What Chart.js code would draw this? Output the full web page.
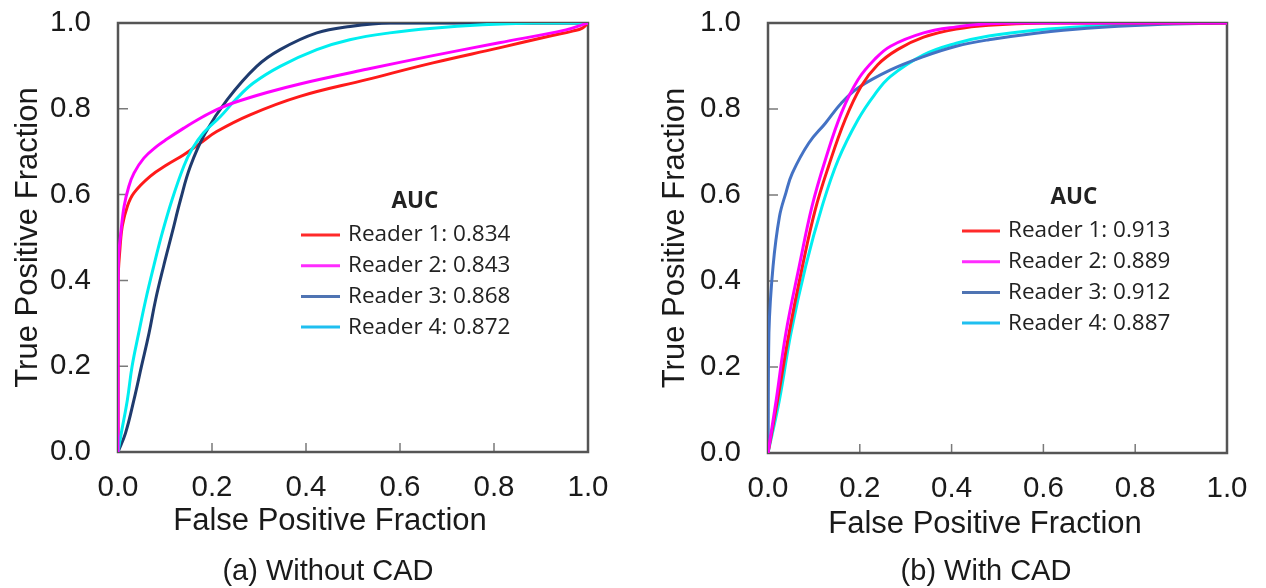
<!DOCTYPE html>
<html><head><meta charset="utf-8">
<script src="https://cdn.jsdelivr.net/npm/chart.js@4.4.1/dist/chart.umd.min.js"></script>
<style>
html,body{margin:0;padding:0;background:#fff;width:1266px;height:588px;overflow:hidden}
.panel{position:absolute;top:0;height:588px;width:633px}
#pa{left:0}#pb{left:633px}
</style></head><body>
<div class="panel" id="pa"><canvas id="ca"></canvas></div>
<div class="panel" id="pb"><canvas id="cb"></canvas></div>
<script>
// ---------- data ----------
const tickValues = [0, 0.2, 0.4, 0.6, 0.8, 1.0];
const readerNames = ['Reader 1', 'Reader 2', 'Reader 3', 'Reader 4'];
const aucWithout = ['0.834', '0.843', '0.868', '0.872'];
const aucWith = ['0.913', '0.889', '0.912', '0.887'];
const xTitleText = 'False Positive Fraction';
const yTitleText = 'True Positive Fraction';
const captionA = '(a) Without CAD';
const captionB = '(b) With CAD';

// (a) Without CAD
const r1WithoutX = [0, 0.0003, 0.004, 0.009, 0.02, 0.034, 0.069, 0.105, 0.14, 0.175, 0.21, 0.281, 0.387, 0.529, 0.67, 0.811, 0.917, 0.967, 0.988, 1];
const r1WithoutY = [0, 0.40, 0.472, 0.526, 0.573, 0.604, 0.643, 0.67, 0.693, 0.72, 0.747, 0.786, 0.829, 0.868, 0.907, 0.942, 0.969, 0.981, 0.988, 1];
const r2WithoutX = [0, 0.0003, 0.001, 0.006, 0.013, 0.023, 0.034, 0.055, 0.083, 0.105, 0.14, 0.175, 0.21, 0.246, 0.317, 0.387, 0.529, 0.67, 0.811, 0.953, 1];
const r2WithoutY = [0, 0.30, 0.448, 0.51, 0.573, 0.619, 0.65, 0.685, 0.713, 0.73, 0.755, 0.778, 0.798, 0.814, 0.838, 0.858, 0.892, 0.924, 0.954, 0.984, 1];
const r3WithoutX = [0, 0.016, 0.034, 0.05, 0.066, 0.08, 0.097, 0.115, 0.133, 0.154, 0.186, 0.232, 0.295, 0.345, 0.423, 0.494, 0.58, 1];
const r3WithoutY = [0, 0.044, 0.122, 0.2, 0.277, 0.355, 0.433, 0.51, 0.588, 0.666, 0.744, 0.821, 0.899, 0.938, 0.977, 0.992, 1, 1];
const r4WithoutX = [0, 0.007, 0.02, 0.03, 0.044, 0.059, 0.076, 0.094, 0.115, 0.14, 0.157, 0.182, 0.218, 0.25, 0.288, 0.345, 0.423, 0.493, 0.578, 0.67, 0.776, 0.882, 1];
const r4WithoutY = [0, 0.044, 0.122, 0.2, 0.277, 0.355, 0.433, 0.51, 0.588, 0.666, 0.705, 0.744, 0.782, 0.821, 0.86, 0.899, 0.938, 0.961, 0.977, 0.988, 0.996, 1, 1];

// (b) With CAD
const r1WithX = [0, 0.021, 0.046, 0.075, 0.103, 0.132, 0.168, 0.203, 0.239, 0.282, 0.339, 0.41, 0.481, 0.6, 1];
const r1WithY = [0, 0.124, 0.279, 0.434, 0.566, 0.667, 0.775, 0.853, 0.903, 0.938, 0.967, 0.986, 0.995, 1, 1];
const r2WithX = [0, 0.018, 0.039, 0.068, 0.096, 0.125, 0.16, 0.196, 0.232, 0.267, 0.339, 0.41, 0.48, 0.56, 1];
const r2WithY = [0, 0.124, 0.279, 0.434, 0.574, 0.682, 0.791, 0.868, 0.915, 0.946, 0.977, 0.991, 0.998, 1, 1];
const r3WithX = [0, 0.002, 0.011, 0.025, 0.039, 0.053, 0.089, 0.125, 0.16, 0.196, 0.267, 0.339, 0.41, 0.481, 0.588, 0.695, 0.838, 1];
const r3WithY = [0, 0.28, 0.434, 0.55, 0.605, 0.651, 0.721, 0.767, 0.814, 0.849, 0.891, 0.922, 0.946, 0.961, 0.977, 0.988, 0.996, 1];
const r4WithX = [0, 0.025, 0.05, 0.082, 0.118, 0.153, 0.196, 0.232, 0.267, 0.339, 0.41, 0.481, 0.588, 0.695, 0.838, 1];
const r4WithY = [0, 0.124, 0.279, 0.434, 0.574, 0.682, 0.775, 0.833, 0.876, 0.926, 0.953, 0.97, 0.984, 0.992, 0.998, 1];

// ---------- styling ----------
const fontSans = "'Liberation Sans', Arial, sans-serif";
const fontLegend = "'Open Sans', 'DejaVu Sans', sans-serif";
const textColor = '#1a1a1a';

const pts = (xs, ys) => xs.map((x, i) => ({x, y: ys[i]}));

const decorPlugin = {
  id: 'decor',
  beforeDatasetsDraw(chart) {
    const {ctx, chartArea: a, scales: {x, y}} = chart;
    ctx.save();
    ctx.strokeStyle = '#7a7a7a';
    ctx.lineWidth = 1.5;
    ctx.beginPath();
    x.ticks.forEach(t => {
      if (t.value > 0.01 && t.value < 0.99) {
        const p = x.getPixelForValue(t.value);
        ctx.moveTo(p, a.bottom); ctx.lineTo(p, a.bottom - 9);
      }
    });
    y.ticks.forEach(t => {
      if (t.value > 0.01 && t.value < 0.99) {
        const p = y.getPixelForValue(t.value);
        ctx.moveTo(a.left, p); ctx.lineTo(a.left + 10, p);
      }
    });
    ctx.stroke();
    ctx.strokeStyle = '#555';
    ctx.lineWidth = 2.5;
    ctx.strokeRect(a.left, a.top, a.right - a.left, a.bottom - a.top);
    ctx.restore();
  },
  afterDraw(chart, args, o) {
    const {ctx, chartArea: a} = chart;
    ctx.save();
    const L = o.legend;
    ctx.fillStyle = '#222';
    ctx.textBaseline = 'middle';
    ctx.font = `bold 22.5px ${fontLegend}`;
    ctx.textAlign = 'center';
    ctx.fillText('AUC', a.left + L.titleDx, a.top + L.titleDy);
    ctx.font = `22.5px ${fontLegend}`;
    ctx.textAlign = 'left';
    chart.data.datasets.forEach((ds, i) => {
      const yy = a.top + L.rowDy + i * L.rowGap;
      ctx.strokeStyle = L.colors[i];
      ctx.lineWidth = 3;
      ctx.beginPath();
      ctx.moveTo(a.left + L.lineDx0, yy); ctx.lineTo(a.left + L.lineDx1, yy);
      ctx.stroke();
      ctx.fillText(ds.label, a.left + L.textDx, yy);
    });
    ctx.fillStyle = textColor;
    ctx.textAlign = 'center';
    ctx.textBaseline = 'alphabetic';
    ctx.font = `31px ${fontSans}`;
    ctx.fillText(o.xTitle.text, o.xTitle.x, o.xTitle.y);
    ctx.font = `29px ${fontSans}`;
    ctx.fillText(o.caption.text, o.caption.x, o.caption.y);
    ctx.restore();
  }
};

function makeChart(id, cfg) {
  return new Chart(document.getElementById(id), {
    type: 'scatter',
    data: {
      datasets: cfg.series.map((s, i) => ({
        label: readerNames[i] + ': ' + cfg.auc[i],
        data: pts(s[0], s[1]),
        showLine: true,
        borderColor: cfg.colors[i],
        backgroundColor: cfg.colors[i],
        borderWidth: 3,
        pointRadius: 0,
        pointHoverRadius: 0,
        tension: 0.4,
        fill: false,
        order: cfg.order[i]
      }))
    },
    options: {
      responsive: true,
      maintainAspectRatio: false,
      animation: false,
      devicePixelRatio: 1,
      layout: {padding: {left: 0, top: 23, right: cfg.padRight, bottom: cfg.padBottom}},
      plugins: {
        legend: {display: false},
        tooltip: {enabled: false},
        title: {display: false},
        decor: {legend: cfg.legend, xTitle: cfg.xTitle, caption: cfg.caption}
      },
      scales: {
        x: {
          type: 'linear', min: 0, max: 1,
          afterBuildTicks: s => { s.ticks = tickValues.map(v => ({value: v})); },
          afterFit: s => { s.height = 60; },
          grid: {display: false, drawTicks: false},
          border: {display: false},
          ticks: {
            padding: 18.5, color: textColor, maxRotation: 0,
            font: {family: fontSans, size: 29.5},
            callback: v => Number(v).toFixed(1)
          }
        },
        y: {
          type: 'linear', min: 0, max: 1,
          afterBuildTicks: s => { s.ticks = tickValues.map(v => ({value: v})); },
          afterFit: s => { s.width = cfg.yWidth; },
          grid: {display: false, drawTicks: true, tickLength: 27},
          border: {display: false},
          title: {
            display: true, text: yTitleText, color: textColor,
            font: {family: fontSans, size: 31},
            padding: {top: cfg.yTitlePad, bottom: 0}
          },
          ticks: {
            padding: 0, color: textColor,
            font: {family: fontSans, size: 29.5},
            callback: v => Number(v).toFixed(1)
          }
        }
      }
    },
    plugins: [decorPlugin]
  });
}

makeChart('ca', {
  series: [[r1WithoutX, r1WithoutY], [r2WithoutX, r2WithoutY], [r3WithoutX, r3WithoutY], [r4WithoutX, r4WithoutY]],
  auc: aucWithout,
  colors: ['#ff1a1a', '#ff00ff', '#1f3b6e', '#00eef0'],
  order: [4, 1, 3, 2],
  padRight: 45, padBottom: 76, yWidth: 118, yTitlePad: 9.4,
  legend: {titleDx: 297, titleDy: 179, lineDx0: 183, lineDx1: 222, textDx: 230, rowDy: 212, rowGap: 30.7,
           colors: ['#ff2a2a', '#ff2cff', '#4f74b3', '#1fbff0']},
  xTitle: {text: xTitleText, x: 330, y: 530},
  caption: {text: captionA, x: 328, y: 580}
});

makeChart('cb', {
  series: [[r1WithX, r1WithY], [r2WithX, r2WithY], [r3WithX, r3WithY], [r4WithX, r4WithY]],
  auc: aucWith,
  colors: ['#ff1a1a', '#ff00ff', '#4472c4', '#00eef0'],
  order: [2, 1, 3, 4],
  padRight: 31, padBottom: 75, yWidth: 135, yTitlePad: 23.4,
  legend: {titleDx: 306, titleDy: 175, lineDx0: 194, lineDx1: 232, textDx: 240, rowDy: 208, rowGap: 30.7,
           colors: ['#ff2a2a', '#ff2cff', '#4f74b3', '#1fbff0']},
  xTitle: {text: xTitleText, x: 352, y: 533},
  caption: {text: captionB, x: 353, y: 580}
});
</script>
</body></html>
